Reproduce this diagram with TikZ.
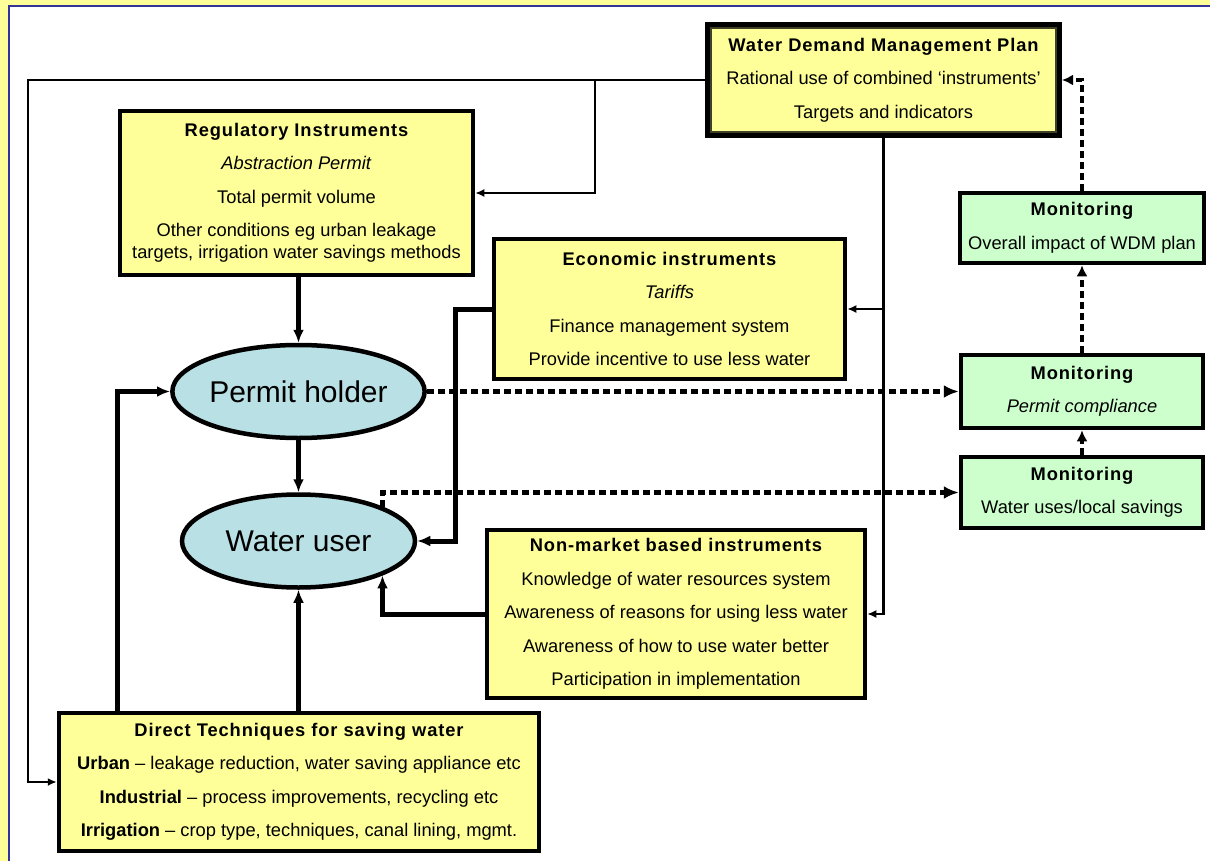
\documentclass[tikz,border=0pt]{standalone}
\usepackage{fontspec}
\setmainfont{Liberation Sans}
\usetikzlibrary{arrows.meta,shapes.geometric}
\definecolor{boxyellow}{RGB}{255,255,153}
\definecolor{mongreen}{RGB}{204,255,204}
\definecolor{userblue}{RGB}{185,224,228}
\definecolor{frameblue}{RGB}{51,51,153}
\newcommand{\boxhead}[1]{{\addfontfeatures{LetterSpace=5}\bfseries #1}}
\begin{document}
\begin{tikzpicture}[x=1pt,y=-1pt,
    instr/.style={draw,line width=4.5pt,fill=boxyellow,align=center,inner sep=0pt,
      font=\fontsize{18.3}{33.5}\selectfont,execute at begin node=\rule{0pt}{21pt}},
    monbox/.style={instr,fill=mongreen},
    actor/.style={ellipse,draw,line width=4.5pt,fill=userblue,inner sep=0pt,
      minimum width=233pt,minimum height=93pt,font=\fontsize{30}{32}\selectfont},
    feed/.style={line width=2.5pt,-{Latex[length=9pt,width=8pt]}},
    flow/.style={line width=5pt,-{Latex[length=13pt,width=11pt]}},
    check/.style={line width=5pt,dash pattern=on 7pt off 4pt,-{Latex[length=15pt,width=13pt]}},
    upcheck/.style={check,line width=4pt,-{Latex[length=11pt,width=11pt]}}]
    \useasboundingbox (0,0) rectangle (1210,861);
    % frame
    \fill[boxyellow] (0,0) rectangle (1210,861);
    \draw[frameblue,line width=2.5pt,fill=white] (9,6) rectangle (1240,890);
    % plan
    \node[instr,line width=7pt,minimum width=350pt,minimum height=109pt] (wdm) at (883.5,80)
      {\boxhead{Water Demand Management Plan}\\Rational use of combined ‘instruments’\\Targets and indicators};
    \draw[line width=1.2pt,black!75!boxyellow] ([xshift=6pt,yshift=-6pt]wdm.north west) rectangle ([xshift=-6pt,yshift=6pt]wdm.south east);
    % instruments
    \node[instr,minimum width=353pt,minimum height=164pt] (reg) at (296.5,193)
      {\boxhead{Regulatory Instruments}\\\textit{Abstraction Permit}\\Total permit volume\\Other conditions eg urban leakage\\[-11.5pt]targets, irrigation water savings methods};
    \node[instr,minimum width=351pt,minimum height=140pt] (econ) at (669.5,309)
      {\boxhead{Economic instruments}\\\textit{Tariffs}\\Finance management system\\Provide incentive to use less water};
    \node[instr,minimum width=378pt,minimum height=168pt] (nonmkt) at (676,614)
      {\boxhead{Non-market based instruments}\\Knowledge of water resources system\\Awareness of reasons for using less water\\Awareness of how to use water better\\Participation in implementation};
    \node[instr,minimum width=480pt,minimum height=138pt] (direct) at (299,782)
      {\boxhead{Direct Techniques for saving water}\\\textbf{Urban} – leakage reduction, water saving appliance etc\\\textbf{Industrial} – process improvements, recycling etc\\\textbf{Irrigation} – crop type, techniques, canal lining, mgmt.};
    % users
    \node[actor] (permit) at (298.5,391.5) {Permit holder};
    \node[actor] (water) at (298.5,541) {Water user};
    % monitoring
    \node[monbox,minimum width=244pt,minimum height=70pt] (mon1) at (1082,228) {\boxhead{Monitoring}\\Overall impact of WDM plan};
    \node[monbox,minimum width=242pt,minimum height=73pt] (mon2) at (1082,391.5) {\boxhead{Monitoring}\\\textit{Permit compliance}};
    \node[monbox,minimum width=242pt,minimum height=71pt] (mon3) at (1082,492.5) {\boxhead{Monitoring}\\Water uses/local savings};
    % plan to instruments
    \coordinate (leftrail) at (28,450);\coordinate (regsplit) at (595,80);\coordinate (econbend) at (455,541);
    \draw[feed](wdm.west) -| (leftrail) |- (direct.west);
    \draw[feed](regsplit) |- (reg.east);
    \draw[feed](wdm.south) |- (econ.east);\draw[feed](wdm.south) |- (nonmkt.east);
    % instruments to users
    \draw[flow](permit.north |- reg.south) -- (permit.north);
    \draw[flow](permit.south) -- (water.north);
    \draw[flow](econ.west) -| (econbend) -- (water.east);
    \draw[flow](nonmkt.west) -| (water.south east);
    \draw[flow]([xshift=61pt]direct.north west) |- (permit.west);
    \draw[flow](direct.north -| water.south) -- (water.south);
    % monitoring links
    \draw[check](permit.east) -- (mon2.west);
    \draw[check](water.north east) |- (mon3.west);
    \draw[upcheck](mon3.north) -- (mon2.south);\draw[upcheck](mon2.north) -- (mon1.south);
    \draw[upcheck](mon1.north) |- (wdm.east);
\end{tikzpicture}
\end{document}
